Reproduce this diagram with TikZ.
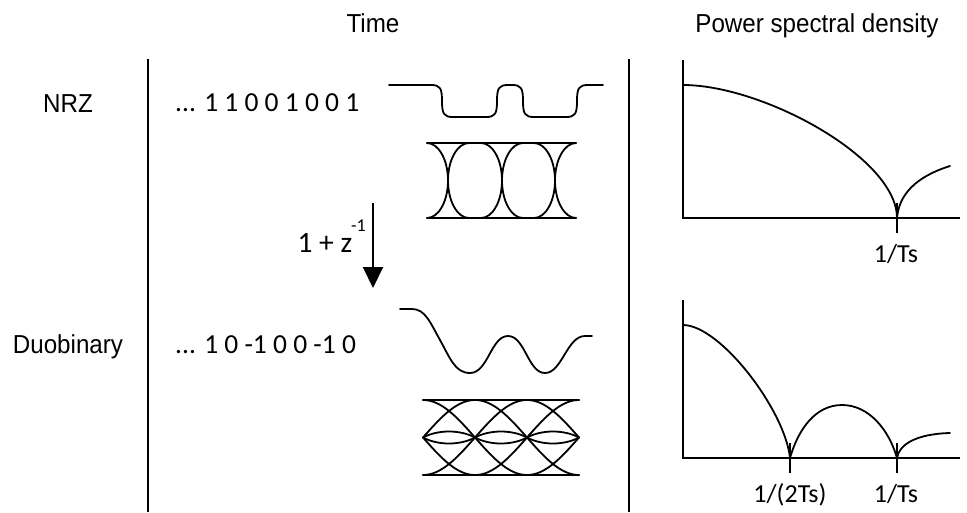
\documentclass[tikz,border=0pt]{standalone}
\usepackage{fontspec}
\usetikzlibrary{arrows.meta}
\setmainfont{Liberation Sans}
\newfontfamily\labfont{Liberation Sans}[FakeStretch=0.93]
\newfontfamily\numfont{Carlito}
\begin{document}
\begin{tikzpicture}[x=1pt,y=-1pt,
  divider/.style={line width=2.5pt},
  axisline/.style={line width=2pt},
  wave/.style={line width=1.8pt,line cap=round,line join=round},
  lab/.style={font=\labfont\fontsize{26}{28}\selectfont,inner sep=0pt},
  seq/.style={font=\numfont\fontsize{27.5}{30}\selectfont,inner sep=0pt},
  ticklab/.style={font=\numfont\fontsize{26}{28}\selectfont,inner sep=0pt}]
\useasboundingbox (0,0) rectangle (967,512);
% titles
\node[lab,anchor=base] (ttime) at (373,32) {Time};
\node[lab,anchor=base] (tpsd) at (817,32) {Power spectral density};
\node[lab,anchor=base] (lnrz) at (68,112) {NRZ};
\node[lab,anchor=base] (lduo) at (68,353) {Duobinary};
% dividers
\coordinate (d1t) at (148,59); \coordinate (d1b) at (148,512);
\coordinate (d2t) at (629,59); \coordinate (d2b) at (629,512);
\draw[divider] (d1t) -- (d1b);
\draw[divider] (d2t) -- (d2b);
% sequences
\node[seq,anchor=base west] (snrz) at (175,111.5) {... 1 1 0 0 1 0 0 1};
\node[seq,anchor=base west] (sduo) at (175,353) {... 1 0 -1 0 0 -1 0};
% arrow
\coordinate (arrS) at (373,203);
\coordinate (arrE) at (373,288);
\draw[line width=2pt,-{Triangle[width=20pt,length=21pt]}] (arrS) -- (arrE);
\node[seq,font=\numfont\fontsize{29.5}{31}\selectfont,anchor=base east] (hz) at (366,252) {1 + z\kern-1pt\raisebox{21pt}{\fontsize{18}{19}\selectfont -1}};
% NRZ waveform
\draw[wave] (389,85) -- (431,85) .. controls (440,85) and (442,88) .. (442,101)
  .. controls (442,114) and (444,117) .. (453,117) -- (486,117)
  .. controls (495,117) and (497,114) .. (497,101)
  .. controls (497,88) and (499,85) .. (508,85) -- (512,85)
  .. controls (521,85) and (523,88) .. (523,101)
  .. controls (523,114) and (525,117) .. (534,117) -- (566,117)
  .. controls (575,117) and (577,114) .. (577,101)
  .. controls (577,88) and (579,85) .. (588,85) -- (603,85);
% NRZ eye
\draw[wave] (427,143) -- (576,143);
\draw[wave] (427,218) -- (576,218);
\foreach \c in {448,502,555}{
  \draw[wave] (\c-21,143) .. controls (\c-9.4,143) and (\c,159.8) .. (\c,180.5)
     .. controls (\c,201.2) and (\c-9.4,218) .. (\c-21,218);
  \draw[wave] (\c+21,143) .. controls (\c+9.4,143) and (\c,159.8) .. (\c,180.5)
     .. controls (\c,201.2) and (\c+9.4,218) .. (\c+21,218);
}
% Duobinary waveform
\draw[wave] (400,309) -- (412,309) .. controls (425,309) and (430,322) .. (440,340)
  .. controls (450,358) and (455,373) .. (470,373)
  .. controls (488,373) and (491,336) .. (508,336)
  .. controls (525,336) and (528,373) .. (545,373)
  .. controls (562,373) and (567,336) .. (585,336) -- (592,336);
% Duobinary eye
\draw[wave] (423,400) -- (579,400);
\draw[wave] (423,475) -- (579,475);
\foreach \p in {423,475,527,579}{
  \draw[wave] plot[domain=0:156,samples=80,smooth] ({423+\x},{437.5-37.5*cos((423+\x-\p)*1.730769)});
}
\foreach \a in {423,475,527}{
  \draw[wave] (\a,437.5) .. controls (\a+15,429.5) and (\a+37,429.5) .. (\a+52,437.5);
  \draw[wave] (\a,437.5) .. controls (\a+15,445.5) and (\a+37,445.5) .. (\a+52,437.5);
}
% upper PSD
\coordinate (ua) at (683,60); \coordinate (uo) at (683,218); \coordinate (ux) at (960,218);
\draw[axisline] (ua) -- (uo) -- (ux);
\draw[wave] (683,85) .. controls (763,85) and (897,158) .. (897,218);
\draw[wave] (897,218) .. controls (899,195) and (915,177) .. (950,166);
\coordinate (ut1) at (897,203); \coordinate (ut2) at (897,233);
\draw[axisline] (ut1) -- (ut2);
\node[ticklab,anchor=base] (uts) at (896,262) {1/Ts};
% lower PSD
\coordinate (la) at (683,300); \coordinate (lo) at (683,458); \coordinate (lx) at (960,458);
\draw[axisline] (la) -- (lo) -- (lx);
\draw[wave] (683,325) .. controls (720,325) and (785,410) .. (790,458);
\draw[wave] (790,458) .. controls (798,430) and (815,405) .. (842,405)
  .. controls (869,405) and (889,430) .. (897,458);
\draw[wave] (897,458) .. controls (899,445) and (915,434) .. (950,433);
\coordinate (lt1) at (790,443); \coordinate (lt2) at (790,473);
\coordinate (lt3) at (897,443); \coordinate (lt4) at (897,473);
\draw[axisline] (lt1) -- (lt2);
\draw[axisline] (lt3) -- (lt4);
\node[ticklab,anchor=base] (lts1) at (790,502) {1/(2Ts)};
\node[ticklab,anchor=base] (lts2) at (896,502) {1/Ts};
\end{tikzpicture}
\end{document}
